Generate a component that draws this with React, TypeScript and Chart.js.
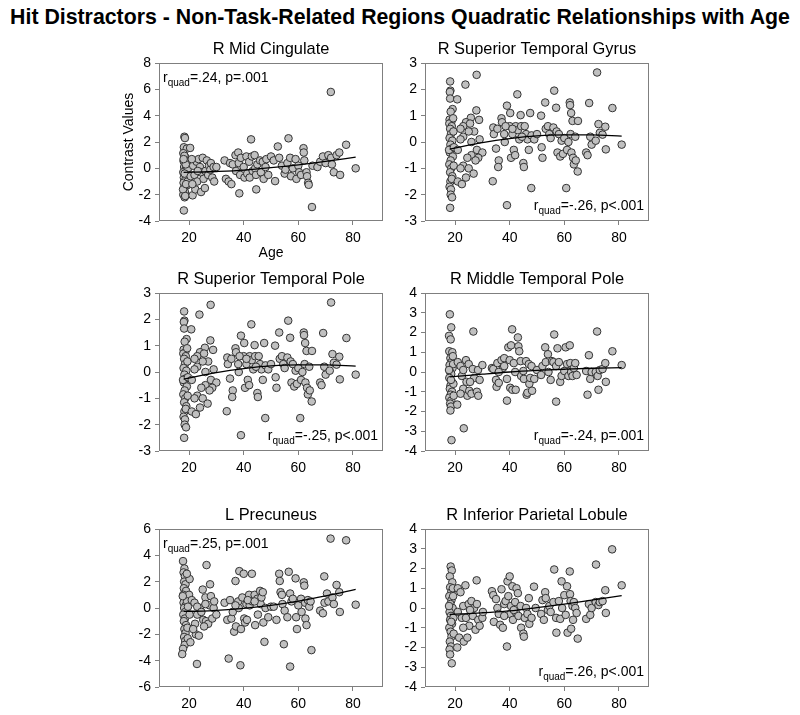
import React, { useEffect, useRef } from "react";
import { Chart, registerables } from "chart.js";
Chart.register(...registerables);

const FONT = "'Liberation Sans', Arial, Helvetica, sans-serif";

const mainTitle = "Hit Distractors - Non-Task-Related Regions Quadratic Relationships with Age";
const ageTicks = [20, 40, 60, 80];
const fitAges = [18, 25, 30, 40, 50, 60, 70, 81];

// [age, contrast value]
const midCingulate: [number, number][] = [
  [18.3,2.4],[18.5,2.3],[18.1,1.6],[19.2,1.5],[17.9,1.15],[18.6,0.85],[18.0,0.55],[19.1,0.35],[18.2,0.1],[18.7,-0.1],[17.9,-0.3],[19.0,-0.5],[18.1,-0.7],[18.6,-0.9],[18.0,-1.1],[19.2,-1.3],[18.2,-1.5],[18.5,-1.8],[17.9,-2.0],[18.4,-2.2],[18.1,-3.2],[19.3,0.6],[19.4,-0.2],[18.3,0.95],[19.6,0.0],[19.5,-1.0],[17.8,-1.6],[18.8,0.3],[18.4,-0.4],[18.9,-1.2],[18.0,0.7],[18.6,-2.1],
  [20.4,1.55],[20.6,-0.6],[21.3,-2.05],[21.5,0.2],[22,-0.5],[22.3,-1.6],[22.8,0.5],[23,-1.0],[23.5,0.7],[24,0.1],[24.2,-0.3],[24.4,-1.8],[25,0.8],[25.3,-0.8],[25.8,-1.5],[26,-0.2],[26.5,0.6],[27,-0.5],[27.3,0.2],[27.8,-0.1],[28,0.4],[28.5,-0.7],[29,0.1],[29.2,-1.0],[30,0.1],[21,0.7],[21.2,-1.2],[23.2,-0.2],
  [33,0.6],[33.5,-0.8],[34.5,-1.0],[35,0.4],[35.5,-1.2],[36,0.3],[37,1.0],[37.2,-0.2],[38,1.2],[38.2,0.4],[38.4,-1.9],[38.7,-0.5],[39,0.8],[40,0.1],[40.3,-0.7],[41,0.9],[41.3,-0.4],[42,0.5],[42.2,-0.7],[42.7,2.2],[43,0.9],[43.3,-0.2],[44,1.0],[44.2,0.0],[44.5,-0.5],[44.6,-1.6],[45,0.3],[46,0.6],[46.3,-0.3],[47,0.5],[47.3,-0.8],[48,0.1],[48.3,0.7],[49,-0.5],[50,0.9],
  [51,0.6],[51.5,-0.97],[52.5,1.66],[53,0.8],[54,0.2],[55,-0.4],[55.3,-0.1],[56,0.4],[56.4,2.28],[57,0.8],[57.3,-0.6],[58,0.0],[59,0.7],[59.3,-0.8],[60,0.2],[60.3,-0.3],[61,-0.5],[61.9,1.53],[62,1.2],[62.2,0.6],[63,-0.3],[63.2,-0.6],[63.6,-1.1],[63.8,-1.25],[65,-2.94],[65.2,0.2],
  [67,0.1],[68,0.5],[69,0.9],[70,0.4],[71,1.0],[71.9,5.8],[72,0.8],[72.3,0.3],[73,-0.3],[74,1.0],[75,1.2],[75.3,-0.5],[77.5,1.79],[81,0.0],
];
const midCingulateFit = [-0.3, -0.28, -0.24, -0.13, 0.05, 0.27, 0.53, 0.85];

const supTempGyrus: [number, number][] = [
  [18.2,2.3],[18.3,1.95],[18.1,1.9],[18.2,1.65],[19.1,1.25],[18.4,1.15],[18.0,0.85],[18.6,0.75],[17.9,0.7],[18.8,0.6],[18.2,0.5],[18.5,0.3],[18.0,0.15],[19.0,0.05],[18.3,-0.1],[18.7,-0.25],[18.1,-0.4],[19.2,-0.55],[18.4,-0.7],[17.9,-0.85],[18.6,-1.0],[18.2,-1.15],[19.0,-1.3],[18.3,-1.5],[18.0,-1.7],[18.5,-1.8],[18.4,-2.0],[18.9,-2.1],[18.2,-2.5],[19.4,0.4],[19.5,-0.9],[19.3,0.9],[17.8,-0.3],[18.8,-1.4],[19.6,-0.2],
  [20.8,1.62],[23.8,2.18],[27.9,2.55],[27.8,1.2],[28.8,0.84],[25.8,0.92],[24,0.75],[23,0.6],[22,0.5],[25.5,0.7],[27,0.4],[28,-0.3],[30,-0.4],[29,0.1],[26,-0.5],[24.5,-0.6],[23,-0.9],[25,-1.0],[26.8,-1.2],[22,-1.0],[21,-1.5],[22.5,-1.6],[24,-1.35],[26,0.0],[23,0.2],[21,-0.3],[28.5,-0.6],[25,0.4],[22,0.1],[27.5,-0.7],
  [34,0.55],[34.2,0.3],[35,-0.25],[35.5,0.5],[36,-0.7],[35.8,-0.95],[33.8,-1.49],[37,0.9],[37.2,0.75],[38,0.3],[38.2,0.0],[39,1.38],[39,-2.4],[40,0.6],[40.2,1.1],[40.5,-0.6],[41,0.3],[41.5,-0.3],[42,-0.5],[42.2,0.6],[42.8,1.81],[43,0.45],[43.5,0.1],[44,1.02],[44.2,0.6],[45,-0.8],[45.2,-0.95],[45.5,0.6],[46,0.3],[46.5,0.1],[47,-0.3],[47.5,1.1],[47.9,-1.75],[48,0.25],[49,0.1],[50,0.3],[38.5,0.6],[41,0.5],[44.5,0.2],
  [51.5,1.0],[51.7,-0.2],[52,-0.6],[53,1.5],[53.2,0.5],[54,0.6],[54.5,0.3],[55,0.15],[56,0.55],[56.3,1.95],[57,1.3],[57.2,0.4],[57.5,-0.4],[58,0.3],[58.5,-0.55],[59,0.05],[59.5,-0.45],[60,0.15],[60.7,-1.75],[61,-0.3],[61.5,0.0],[62,1.5],[62.1,1.4],[62.5,1.1],[62.3,0.3],[62.6,-0.4],[63,0.8],[63.2,-0.6],[63.5,-0.85],[64,0.2],[64.2,-0.7],[65,0.8],[64.9,-1.12],
  [68,-0.4],[68.5,-0.5],[69.1,1.48],[69.5,0.2],[70,-0.1],[71.5,0.05],[72,2.64],[72.5,0.68],[73,0.35],[74,0.28],[75,0.58],[75.2,-0.28],[77.6,1.29],[81,-0.1],
];
const supTempGyrusFit = [-0.27, -0.12, -0.02, 0.13, 0.23, 0.27, 0.27, 0.22];

// the pole scatter reads the same as the gyrus scatter in the picture
const supTempPole: [number, number][] = supTempGyrus;
const supTempPoleFit = [-0.27, -0.12, -0.02, 0.13, 0.23, 0.27, 0.27, 0.22];

const midTempPole: [number, number][] = [
  [18.1,2.92],[18.6,2.26],[17.8,1.83],[18.4,1.65],[17.9,1.05],[19.0,1.0],[18.3,0.7],[18.7,0.5],[18.0,0.35],[19.1,0.2],[18.2,0.0],[18.6,-0.1],[17.9,-0.3],[18.8,-0.5],[18.3,-0.7],[18.1,-0.85],[18.9,-1.0],[18.4,-1.15],[17.9,-1.3],[18.6,-1.45],[18.2,-1.6],[18.5,-1.75],[18.3,-1.95],[18.7,-3.45],[19.3,0.4],[19.4,-0.6],[19.5,-1.2],[17.8,0.1],[19.2,0.8],[18.5,-0.4],
  [20.8,-1.65],[21,0.5],[22,0.3],[22.5,-0.2],[23,-0.85],[23.2,-2.85],[24,0.6],[24.2,-0.5],[24.5,-1.2],[25,0.4],[25.2,-0.95],[26,-1.1],[26.5,0.15],[27,-0.3],[26.7,2.05],[28,-1.0],[28.5,-1.2],[28.4,0.1],[29,-0.4],[30,0.35],[22,-1.1],[23,0.1],[25.5,-0.5],
  [33.5,0.2],[34,0.15],[35,-0.4],[35.2,-0.75],[35.5,0.45],[36,-0.55],[37,0.6],[37.5,0.2],[38,0.7],[39,-0.35],[39,-1.45],[39.5,1.25],[40,0.6],[40.2,-0.8],[40.5,1.35],[41,-0.9],[40.9,2.16],[41.5,0.45],[42,0.0],[42.2,-0.9],[43,1.75],[43.2,1.3],[43.5,1.05],[44,0.55],[44.2,-0.2],[45,0.05],[45.2,-0.35],[46,0.55],[46.2,-1.15],[46.5,-1.05],[47,0.4],[47.2,-0.6],[47.5,-0.3],[48,0.3],[48.2,-0.95],[49,-0.35],[50,0.1],[38,0.3],[36,0.0],
  [51.5,-0.15],[52,0.3],[53,1.25],[53.2,0.5],[54,0.9],[54.2,0.0],[55,-0.4],[55.5,0.55],[56,0.5],[56.3,1.9],[57,0.3],[57,-1.5],[57.5,1.2],[58,0.5],[58.5,-0.5],[59,-0.2],[60,0.05],[60.5,1.25],[61,0.4],[61.5,-0.2],[62,1.35],[62.2,0.45],[62.5,0.0],[63,-0.2],[63.5,0.2],[64,0.45],[64.5,-0.15],
  [68,0.05],[68.5,-1.15],[69,0.85],[69.5,-0.35],[70,0.0],[71.5,0.0],[72,2.05],[72.5,-0.9],[72.2,-0.2],[73,0.1],[74,0.15],[75,0.45],[75.2,-0.5],[77.6,1.05],[81,0.35],
];
const midTempPoleFit = [-0.25, -0.17, -0.11, 0.0, 0.08, 0.14, 0.19, 0.22];

const lPrecuneus: [number, number][] = [
  [17.8,3.56],[18.3,3.0],[18.0,2.7],[18.5,2.4],[18.2,2.0],[18.7,1.8],[18.1,1.5],[18.9,1.3],[17.9,1.0],[18.4,0.7],[18.0,0.4],[18.8,0.2],[18.2,0.0],[18.6,-0.3],[17.9,-0.5],[18.5,-0.8],[18.1,-1.0],[18.9,-1.3],[18.3,-1.6],[18.7,-1.9],[18.2,-2.2],[18.6,-2.5],[18.4,-2.8],[17.8,-3.1],[17.5,-3.5],[20.2,2.2],[20,1.0],[20.2,-0.5],[19.3,0.5],[19.4,-1.5],[19.2,2.6],[19.5,-2.3],[17.7,0.9],[19.6,0.1],
  [21,0.6],[22,0.4],[22.2,-1.2],[22.5,-2.0],[23,-0.5],[22.9,-4.25],[23.6,-2.1],[24,0.0],[25,1.4],[25.2,-0.9],[26,0.8],[26.2,-1.0],[26.4,3.26],[27,-1.2],[27.5,0.2],[27.7,1.8],[28,0.9],[28.5,-0.8],[29,0.0],[29.2,0.5],[30,-0.5],[21.5,-1.6],[23,0.1],[24.5,-0.3],[26,0.3],[25.5,-1.4],[20.5,-2.6],
  [33,0.4],[34,-0.9],[34.5,-3.84],[35,0.6],[35.5,-0.8],[36,-0.3],[36.5,-1.8],[37,2.05],[37.2,-1.4],[38,0.5],[38.2,0.0],[38.4,2.8],[39,-1.6],[38.8,-4.35],[39.5,0.8],[40,2.6],[40.2,-0.8],[40.5,-1.1],[41,0.3],[41.2,-0.9],[42,1.0],[42.2,0.2],[43,2.6],[43.2,0.5],[44,1.0],[44.2,-1.3],[45,0.7],[45.2,-0.5],[46,1.3],[46.2,0.3],[46.5,0.8],[47,1.2],[47.2,-1.1],[48,0.0],[47.6,-2.57],[49,-0.7],[50,0.1],[37,0.2],[41.5,0.6],[44,0.5],
  [51,0.1],[52,-0.9],[53,2.6],[53.2,2.05],[53.5,1.2],[54,1.0],[54.2,0.3],[55,-0.2],[54.7,-2.75],[56,-0.7],[56.5,2.75],[57,1.1],[57,-4.45],[57.5,0.5],[58,0.7],[59,2.25],[59.2,-0.7],[59.5,-1.6],[60,0.2],[61,0.7],[61.2,-0.3],[62,1.95],[62.2,1.7],[62.5,0.4],[62.6,-0.8],[63,-1.3],[63.5,0.6],[64,0.1],[64.5,0.5],[64.8,-3.2],
  [68,-0.2],[69,-0.4],[69.5,2.4],[69.6,0.4],[70.5,1.1],[71,0.5],[71.8,5.27],[72.5,0.8],[73,0.3],[74,1.75],[75,1.2],[75.2,-0.3],[77.5,5.14],[81,0.25],
];
const lPrecuneusFit = [-0.25, -0.23, -0.18, -0.03, 0.2, 0.52, 0.92, 1.42];

const infParietal: [number, number][] = [
  [18.4,2.1],[18.8,1.9],[18.1,1.6],[19.0,1.3],[18.2,1.05],[18.6,0.8],[17.9,0.6],[18.7,0.4],[18.3,0.2],[19.1,0.0],[18.0,-0.2],[18.5,-0.4],[18.2,-0.6],[18.9,-0.8],[17.9,-1.0],[18.4,-1.2],[18.7,-1.45],[18.1,-1.7],[18.5,-1.95],[18.0,-2.1],[18.2,-2.35],[18.8,-2.8],[19.3,0.6],[19.4,-0.5],[19.5,-1.3],[17.8,0.1],[19.2,1.0],[18.6,-0.7],
  [21,1.0],[21.5,-1.5],[20.8,-2.0],[22,0.8],[22.5,-0.5],[23,0.1],[23.2,-1.7],[23.8,1.15],[24,-0.5],[24.5,-1.5],[25,0.2],[25.2,-0.9],[26,0.35],[26.5,-0.4],[27,0.0],[27.5,-1.1],[27.9,1.4],[28,0.2],[28.5,-0.6],[29,-0.9],[30,-0.5],[30.2,-0.2],[21,-0.2],[23,-1.0],[25.5,-0.1],
  [33.5,0.85],[34,0.65],[34.2,-0.7],[35,0.45],[35.5,0.0],[36,-0.3],[36.5,-0.85],[37,0.95],[37.5,-1.0],[38,0.2],[38.5,0.35],[39,-1.95],[39.2,1.35],[39.5,0.6],[40,1.6],[40.2,-0.3],[40.5,0.1],[41,1.1],[41.2,-0.6],[42,0.3],[42.2,-0.2],[42.5,1.0],[43,0.75],[43.2,-0.4],[44,0.1],[44.2,-1.0],[45,-1.3],[45.2,-1.45],[45.5,-0.5],[46,0.0],[46.5,-0.3],[47,0.5],[47.2,-0.8],[48,-0.5],[48.9,1.08],[49.5,0.0],[38,-0.4],[41.5,-0.1],
  [51.5,-0.3],[52,0.4],[52.5,-0.6],[53,0.8],[53.2,0.5],[54,-0.1],[54.5,0.1],[55,-0.2],[56,0.3],[56.3,1.95],[57,-0.5],[57.1,-1.25],[58,0.35],[58.5,-0.55],[59,1.35],[59.2,0.0],[60,0.65],[60.5,-0.35],[61,1.1],[61.2,-1.25],[62,1.85],[62.1,0.7],[62.3,0.35],[62.5,-1.05],[63,0.1],[63.2,-0.6],[63.5,0.3],[64,0.0],[64.5,-0.25],[64.9,-1.55],
  [68,-0.55],[69,0.2],[69.5,-0.35],[70,0.0],[71.5,0.3],[71.6,2.2],[72.5,0.15],[73,0.3],[74,0.35],[75,0.9],[75.2,-0.25],[77.5,2.97],[81,1.15],
];
const infParietalFit = [-0.32, -0.28, -0.24, -0.15, 0.02, 0.2, 0.4, 0.63];

const ticksA = [-4, -2, 0, 2, 4, 6, 8];
const ticksB = [-3, -2, -1, 0, 1, 2, 3];
const ticksC = [-4, -3, -2, -1, 0, 1, 2, 3, 4];
const ticksD = [-6, -4, -2, 0, 2, 4, 6];

type Panel = {
  title: string;
  points: [number, number][];
  fit: number[];
  yTicks: number[];
  stat: string;
  statCorner: "tl" | "br";
  plotLeft: number;
  plotTop: number;
  axisTitles: boolean;
};

const PW = 224;
const PH = 158;
const L = 72, T = 40, R = 10, B = 45;

const panels: Panel[] = [
  { title: "R Mid Cingulate", points: midCingulate, fit: midCingulateFit, yTicks: ticksA, stat: "=.24, p=.001", statCorner: "tl", plotLeft: 159, plotTop: 63, axisTitles: true },
  { title: "R Superior Temporal Gyrus", points: supTempGyrus, fit: supTempGyrusFit, yTicks: ticksB, stat: "=-.26, p<.001", statCorner: "br", plotLeft: 425, plotTop: 63, axisTitles: false },
  { title: "R Superior Temporal Pole", points: supTempPole, fit: supTempPoleFit, yTicks: ticksB, stat: "=-.25, p<.001", statCorner: "br", plotLeft: 159, plotTop: 293, axisTitles: false },
  { title: "R Middle Temporal Pole", points: midTempPole, fit: midTempPoleFit, yTicks: ticksC, stat: "=-.24, p=.001", statCorner: "br", plotLeft: 425, plotTop: 293, axisTitles: false },
  { title: "L Precuneus", points: lPrecuneus, fit: lPrecuneusFit, yTicks: ticksD, stat: "=.25, p=.001", statCorner: "tl", plotLeft: 159, plotTop: 529, axisTitles: false },
  { title: "R Inferior Parietal Lobule", points: infParietal, fit: infParietalFit, yTicks: ticksC, stat: "=.26, p<.001", statCorner: "br", plotLeft: 425, plotTop: 529, axisTitles: false },
];

function drawStat(ctx: CanvasRenderingContext2D, x: number, y: number, rest: string, align: "left" | "right") {
  ctx.font = `14px ${FONT}`;
  const w1 = ctx.measureText("r").width;
  const w3 = ctx.measureText(rest).width;
  ctx.font = `10px ${FONT}`;
  const w2 = ctx.measureText("quad").width;
  const x0 = align === "right" ? x - (w1 + w2 + w3) : x;
  ctx.textAlign = "left";
  ctx.textBaseline = "alphabetic";
  ctx.fillStyle = "#000";
  ctx.font = `14px ${FONT}`;
  ctx.fillText("r", x0, y);
  ctx.font = `10px ${FONT}`;
  ctx.fillText("quad", x0 + w1, y + 4);
  ctx.font = `14px ${FONT}`;
  ctx.fillText(rest, x0 + w1 + w2, y);
}

function PanelChart({ p }: { p: Panel }) {
  const ref = useRef<HTMLCanvasElement>(null);
  useEffect(() => {
    const decor = {
      id: "decor",
      beforeDatasetsDraw(chart: any) {
        const { ctx, chartArea: a } = chart;
        ctx.save();
        ctx.strokeStyle = "#7f7f7f";
        ctx.lineWidth = 1;
        ctx.strokeRect(a.left + 0.5, a.top + 0.5, a.right - a.left - 1, a.bottom - a.top - 1);
        ctx.restore();
      },
      afterDatasetsDraw(chart: any) {
        const { ctx, chartArea: a } = chart;
        ctx.save();
        const cx = (a.left + a.right) / 2;
        ctx.fillStyle = "#000";
        ctx.textAlign = "center";
        ctx.textBaseline = "middle";
        ctx.font = `16.4px ${FONT}`;
        ctx.fillText(p.title, cx, a.top - 14);
        if (p.axisTitles) {
          ctx.font = `14px ${FONT}`;
          ctx.fillText("Age", cx, a.bottom + 32);
          ctx.save();
          ctx.translate(a.left - 30, (a.top + a.bottom) / 2);
          ctx.rotate(-Math.PI / 2);
          ctx.fillText("Contrast Values", 0, 0);
          ctx.restore();
        }
        if (p.statCorner === "tl") drawStat(ctx, a.left + 4, a.top + 19, p.stat, "left");
        else drawStat(ctx, a.right - 5, a.bottom - 11, p.stat, "right");
        ctx.restore();
      },
    };
    const chart = new Chart(ref.current!, {
      type: "scatter",
      data: {
        datasets: [
          {
            data: fitAges.map((a, i) => ({ x: a, y: p.fit[i] })),
            showLine: true,
            pointRadius: 0,
            borderColor: "#000",
            borderWidth: 1.3,
            cubicInterpolationMode: "monotone",
          } as any,
          {
            data: p.points.map(([a, v]) => ({ x: a, y: v })),
            pointRadius: 3.8,
            pointBackgroundColor: "#c0c0c0",
            pointBorderColor: "#333",
            pointBorderWidth: 1,
            showLine: false,
          } as any,
        ],
      },
      options: {
        responsive: false,
        animation: false,
        events: [],
        layout: { padding: { left: 0, top: T, right: R, bottom: 0 } },
        plugins: { legend: { display: false }, tooltip: { enabled: false }, title: { display: false } },
        scales: {
          x: {
            type: "linear",
            min: 9,
            max: 91,
            afterBuildTicks: (s: any) => { s.ticks = ageTicks.map((v) => ({ value: v })); },
            afterFit: (s: any) => { s.height = B; },
            ticks: { font: { family: FONT, size: 14 }, color: "#000", padding: 5, maxRotation: 0, autoSkip: false },
            grid: { drawOnChartArea: false, drawTicks: true, tickLength: 4, color: "#7f7f7f" },
            border: { display: false },
          },
          y: {
            type: "linear",
            min: p.yTicks[0],
            max: p.yTicks[p.yTicks.length - 1],
            afterBuildTicks: (s: any) => { s.ticks = p.yTicks.map((v) => ({ value: v })); },
            afterFit: (s: any) => { s.width = L; },
            ticks: { font: { family: FONT, size: 14 }, color: "#000", padding: 4, autoSkip: false },
            grid: { drawOnChartArea: false, drawTicks: true, tickLength: 4, color: "#7f7f7f" },
            border: { display: false },
          },
        },
      } as any,
      plugins: [decor],
    });
    return () => chart.destroy();
  }, [p]);
  return (
    <canvas
      ref={ref}
      width={PW + L + R}
      height={PH + T + B}
      style={{ position: "absolute", left: p.plotLeft - L, top: p.plotTop - T, display: "block" }}
    />
  );
}

export default function App() {
  return (
    <div style={{ position: "absolute", left: 0, top: 0, width: 800, height: 715, background: "#fff", overflow: "hidden" }}>
      <div
        style={{
          position: "absolute", left: 0, top: 4, width: 800, textAlign: "center",
          fontFamily: FONT, fontWeight: "bold", fontSize: 21.3, lineHeight: "26px", color: "#000", whiteSpace: "nowrap",
        }}
      >
        {mainTitle}
      </div>
      {panels.map((p, i) => (
        <PanelChart key={i} p={p} />
      ))}
    </div>
  );
}
